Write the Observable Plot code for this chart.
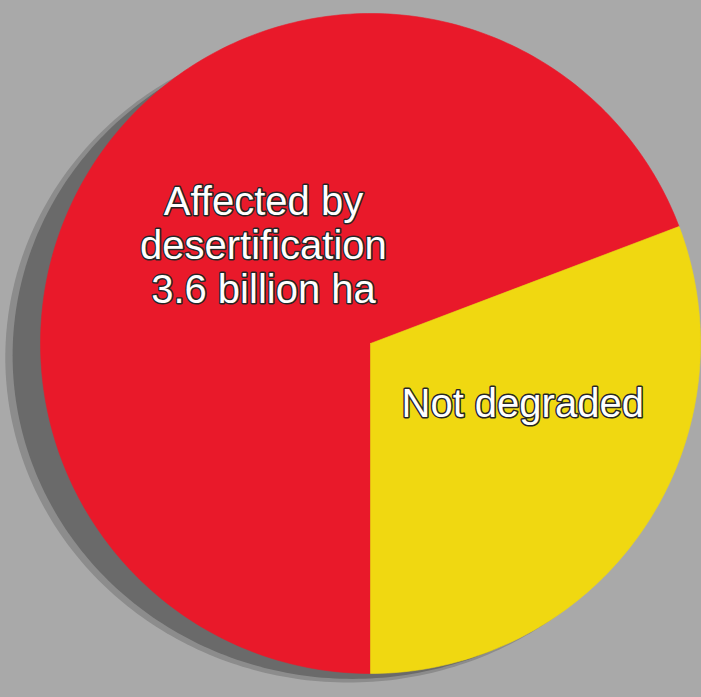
<!DOCTYPE html>
<html><head><meta charset="utf-8">
<script src="https://cdn.jsdelivr.net/npm/d3@7"></script>
<script src="https://cdn.jsdelivr.net/npm/@observablehq/plot@0.6"></script>
<style>html,body{margin:0;padding:0;background:#a9a9a9;overflow:hidden} #chart svg{display:block}</style>
</head><body><div id="chart"></div>
<script>
// Data (billion hectares of drylands)
const categories = ["Affected by desertification", "Not degraded"];
const values = [3.6, 1.6];
const labels = ["Affected by\ndesertification\n3.6 billion ha", "Not degraded"];
const colors = ["#e9192a", "#f0d811"];

// Pie layout: red starts at 6 o'clock going clockwise, yellow ends at 6 o'clock
const arcs = d3.pie().sort(null).startAngle(Math.PI).endAngle(3 * Math.PI)(values);

function wedge(a, i) {
  const pts = [{cat: categories[i], x: 0, y: 0}];
  const n = Math.ceil(360 * (a.endAngle - a.startAngle) / (2 * Math.PI));
  for (let k = 0; k <= n; k++) {
    const t = a.startAngle + (a.endAngle - a.startAngle) * k / n;
    pts.push({cat: categories[i], x: Math.sin(t), y: Math.cos(t)});
  }
  pts.push({cat: categories[i], x: 0, y: 0});
  return pts;
}
const wedges = arcs.map(wedge);
// slightly reshaped outline for the drop shadow under the disc
function ellipse(sx, sy) {
  return d3.range(0, 361).map(d => ({x: sx * Math.sin(d * Math.PI / 180), y: sy * Math.cos(d * Math.PI / 180)}));
}

function labelPos(a, i, r) {
  const m = (a.startAngle + a.endAngle) / 2;
  return {x: r * Math.sin(m), y: r * Math.cos(m), text: labels[i]};
}
const redLabel = [labelPos(arcs[0], 0, 0.42)];
const yellowLabel = [labelPos(arcs[1], 1, 0.45)];

const textStyle = {
  x: "x", y: "y", text: "text",
  fill: "white", stroke: "#262626", strokeWidth: 3,
  fontSize: 40, fontFamily: "Liberation Sans, Arial, Helvetica, sans-serif",
  lineHeight: 1.1, textAnchor: "middle"
};

const chart = Plot.plot({
  width: 701, height: 697,
  marginTop: 0, marginRight: 0, marginBottom: 0, marginLeft: 0,
  x: {domain: [-1, 1], range: [40, 700], axis: null},
  y: {domain: [-1, 1], range: [673, 13], axis: null},
  style: {background: "#a9a9a9", overflow: "hidden"},
  marks: [
    Plot.line(ellipse(1.04, 0.985), {x: "x", y: "y", fill: "#8c8c8c", stroke: "none", dx: -22, dy: 14}),
    Plot.line(ellipse(1.03, 0.98), {x: "x", y: "y", fill: "#6a6a6a", stroke: "none", dx: -18, dy: 12}),
    ...wedges.map((w, i) => Plot.line(w, {x: "x", y: "y", fill: colors[i], stroke: colors[i], strokeWidth: 0.6})),
    Plot.text(redLabel, {...textStyle, dx: 7, dy: -20}),
    Plot.text(yellowLabel, {...textStyle, dx: 30, dy: -25})
  ]
});
document.getElementById("chart").append(chart);
</script>
</body></html>
